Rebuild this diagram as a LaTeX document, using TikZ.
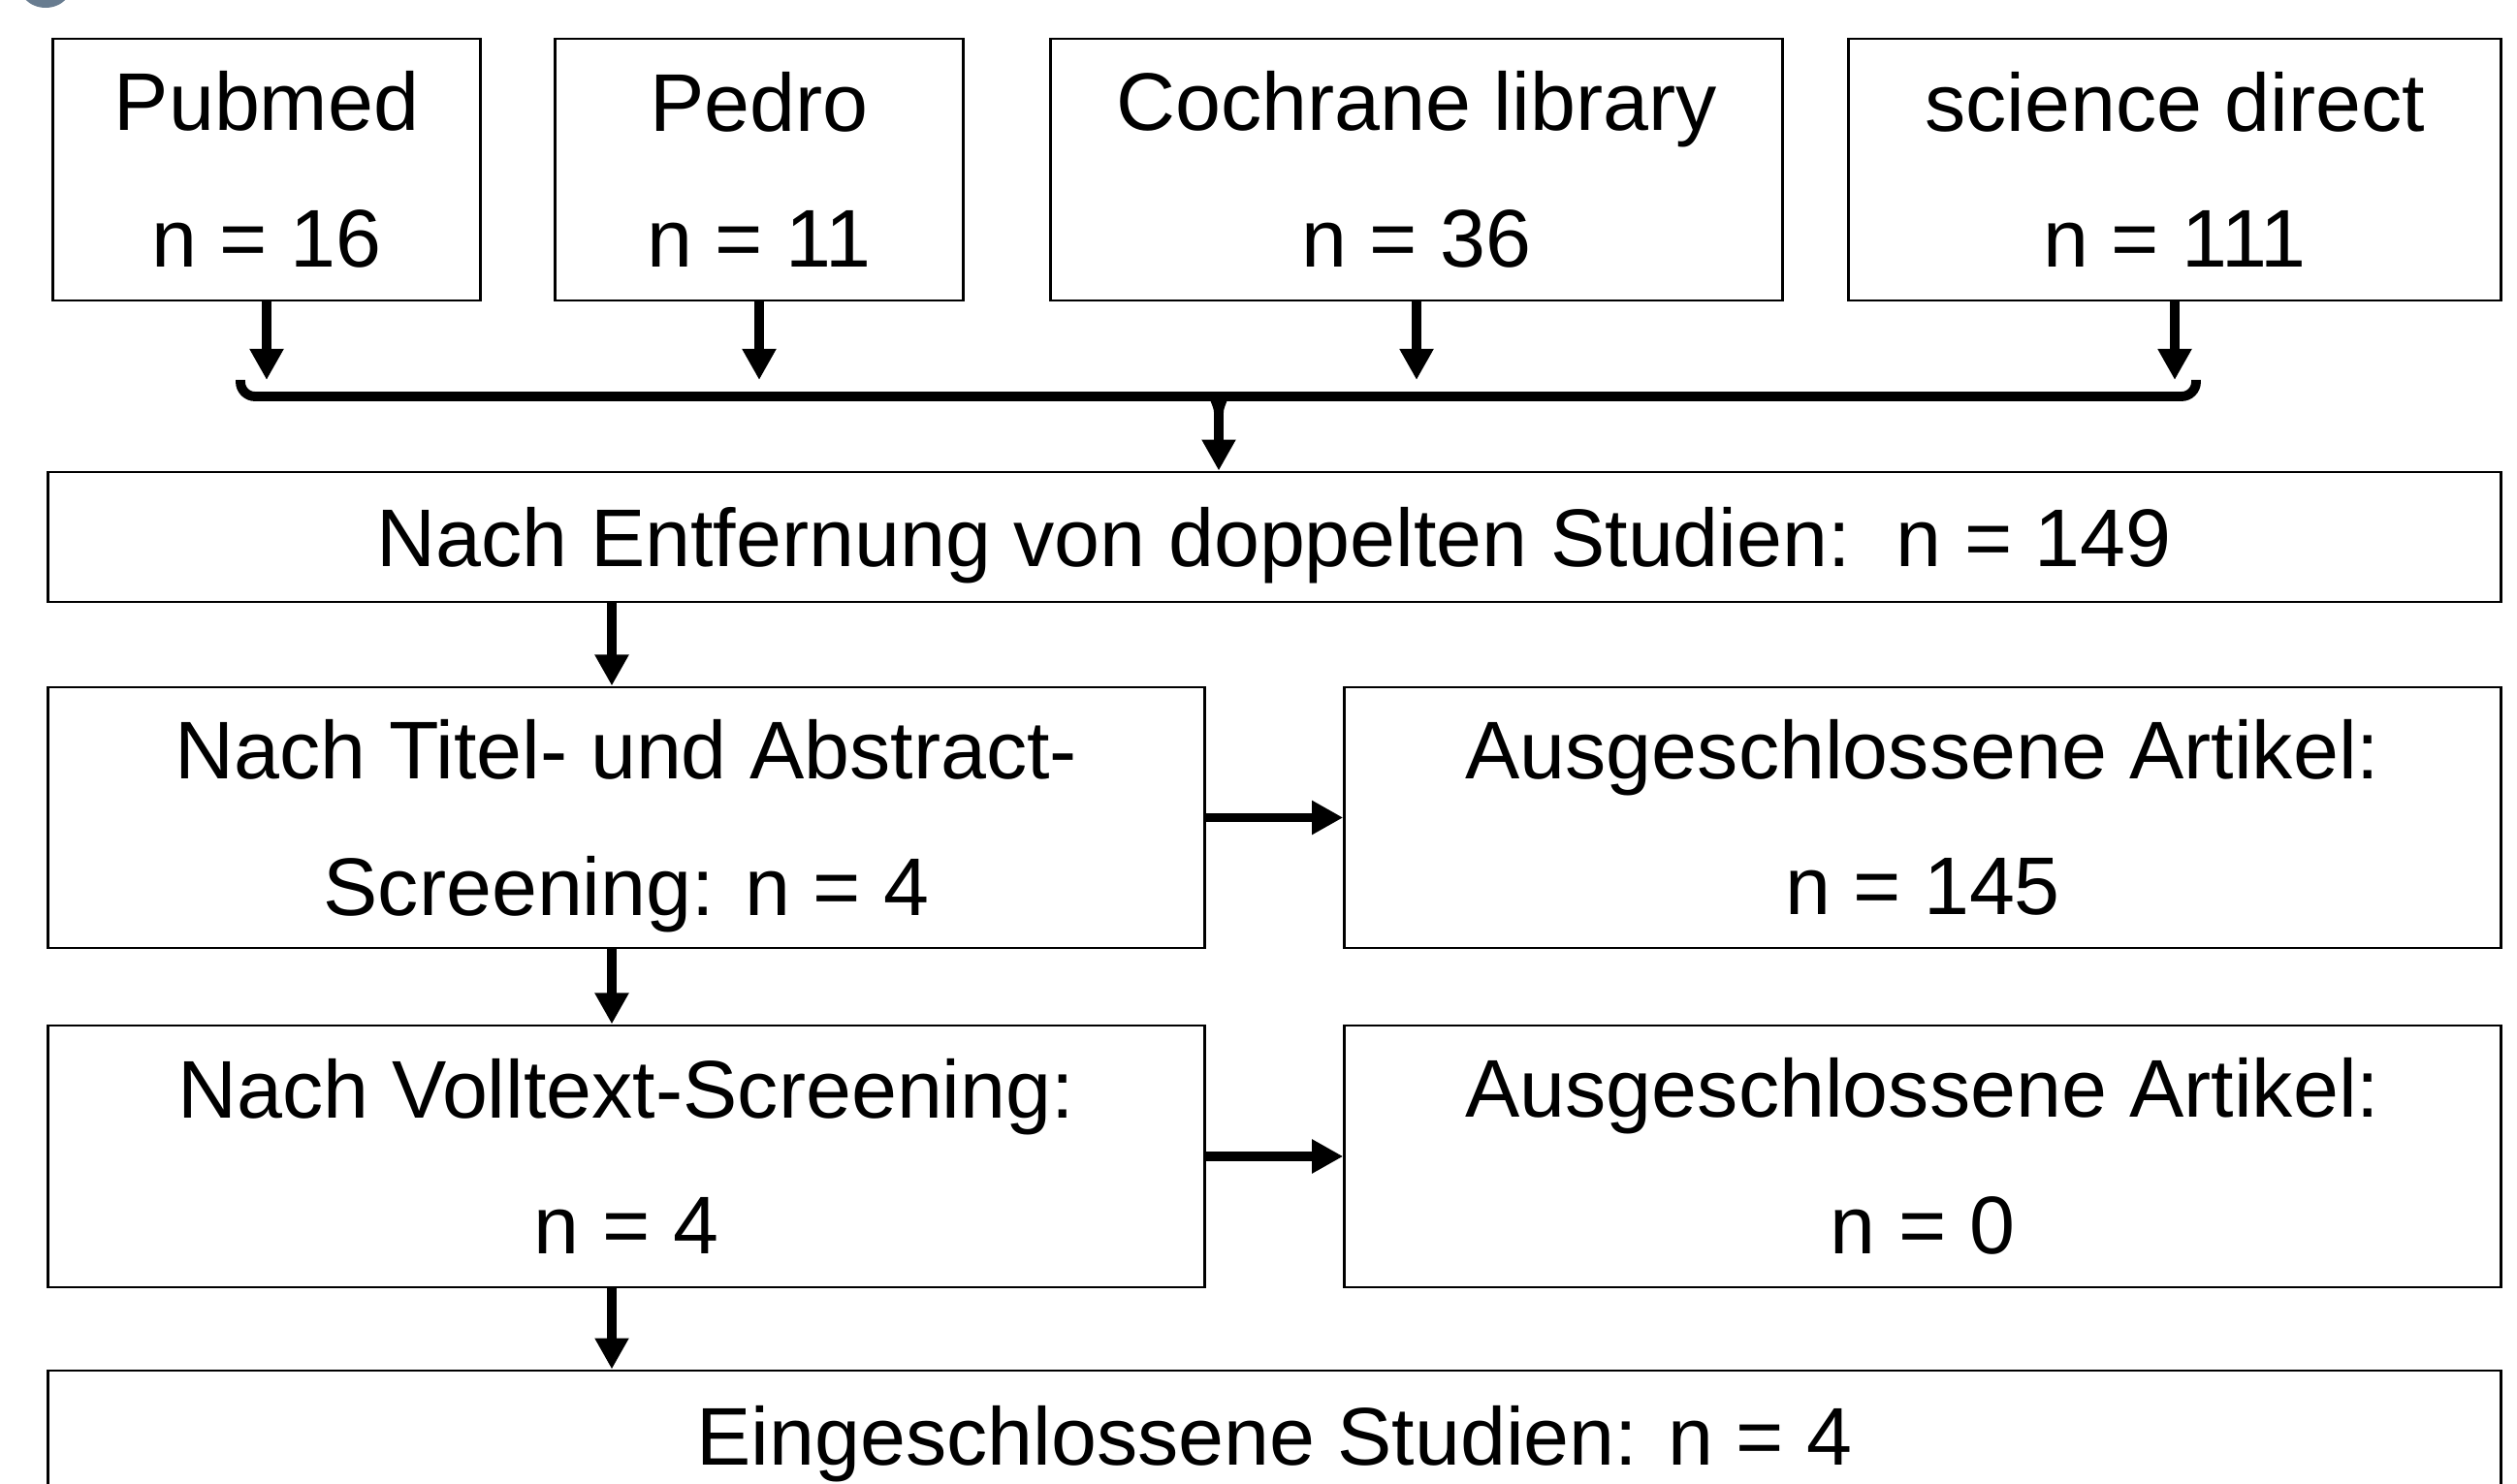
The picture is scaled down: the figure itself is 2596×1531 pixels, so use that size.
\documentclass[tikz,border=0pt]{standalone}
\usepackage{fontspec}
\setmainfont{Liberation Sans}
\usetikzlibrary{arrows.meta}
\definecolor{dotgray}{RGB}{104,124,144}

\begin{document}
\begin{tikzpicture}[x=0.01cm,y=-0.01cm,
>={Triangle[length=3.2mm,width=3.3mm]},
box/.style={draw,line width=0.8pt,inner sep=0pt,align=center,
  font=\fontsize{24}{40}\selectfont},
oneline/.style={text height=17.2pt,text depth=0pt},
flow/.style={->,line width=2.8pt},
bar/.style={line width=2.8pt,rounded corners=1.5mm}]
\useasboundingbox (0,0) rectangle (2596,1531);
\clip (0,0) rectangle (2596,1531);
\fill[dotgray] (47,-22) circle (0.3cm);
% databases
\node[box,minimum width=4.4cm,minimum height=2.7cm] (pub) at (275,175) {Pubmed\\n = 16};
\node[box,minimum width=4.2cm,minimum height=2.7cm] (ped) at (783,175) {Pedro\\n = 11};
\node[box,minimum width=7.54cm,minimum height=2.7cm] (coch) at (1461,175) {Cochrane library\\n = 36};
\node[box,minimum width=6.72cm,minimum height=2.7cm] (sci) at (2243,175) {science direct\\n = 111};
% screening steps
\node[box,oneline,minimum width=25.29cm,minimum height=1.34cm] (entf) at (1314.5,554) {Nach Entfernung von doppelten Studien:\ \ n = 149};
\node[box,minimum width=11.92cm,minimum height=2.69cm] (titel) at (646,843.5) {Nach Titel- und Abstract-\\\raisebox{0pt}[\height][0pt]{Screening: n = 4}};
\node[box,minimum width=11.92cm,minimum height=2.69cm] (aus1) at (1983,843.5) {Ausgeschlossene Artikel:\\n = 145};
\node[box,minimum width=11.92cm,minimum height=2.7cm] (voll) at (646,1193) {Nach Volltext-Screening:\\n = 4};
\node[box,minimum width=11.92cm,minimum height=2.7cm] (aus2) at (1983,1193) {Ausgeschlossene Artikel:\\n = 0};
\node[box,oneline,minimum width=25.29cm,minimum height=1.34cm] (ein) at (1314.5,1481) {Eingeschlossene Studien: n = 4};
% brace
\coordinate (bl) at (248,392);
\coordinate (br) at (2265,392);
\coordinate (bml) at (1240,409);
\coordinate (bmr) at (1274,409);
\coordinate (bs) at (1257,426);
\coordinate (ax) at (631,0);
\draw[flow] (pub.south) -- (pub.south |- bl);
\draw[flow] (ped.south) -- (ped.south |- bl);
\draw[flow] (coch.south) -- (coch.south |- bl);
\draw[flow] (sci.south) -- (sci.south |- bl);
\draw[bar] (bl) |- (bml) to[out=0,in=90] (bs);
\draw[bar] (br) |- (bmr) to[out=180,in=90] (bs);
\draw[flow] (bs) -- (entf.north -| bs);
% flow down and out
\draw[flow] (entf.south -| ax) -- (titel.north -| ax);
\draw[flow] (titel.south -| ax) -- (voll.north -| ax);
\draw[flow] (voll.south -| ax) -- (ein.north -| ax);
\draw[flow] (titel.east) -- (aus1.west);
\draw[flow] (voll.east) -- (aus2.west);
\end{tikzpicture}
\end{document}
